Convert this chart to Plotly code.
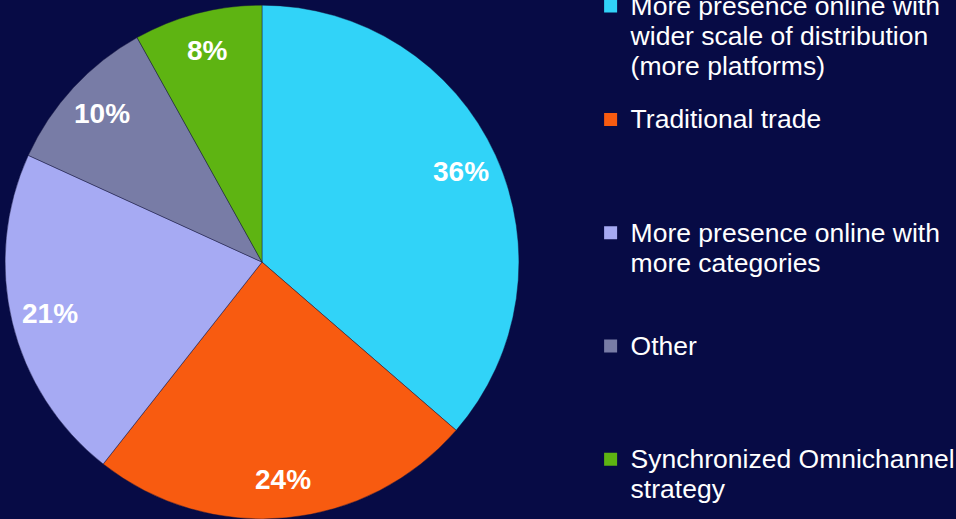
import math
import plotly.graph_objects as go

# Survey shares per channel strategy (percent)
categories = [
    "More presence online with wider scale of distribution (more platforms)",
    "Traditional trade",
    "More presence online with more categories",
    "Other",
    "Synchronized Omnichannel strategy",
]
legend_lines = [
    ["More presence online with", "wider scale of distribution", "(more platforms)"],
    ["Traditional trade"],
    ["More presence online with", "more categories"],
    ["Other"],
    ["Synchronized Omnichannel", "strategy"],
]
values = [36, 24, 21, 10, 8]
colors = ["#31d3f8", "#f85b10", "#a6aaf3", "#787ca6", "#5eb412"]

W, H = 956, 519
BG = "#070b45"
FONT = "Liberation Sans, Arial, sans-serif"
dom_x = [4 / W, 520 / W]
dom_y = [0, 0.99]

fig = go.Figure()

fig.add_trace(go.Pie(
    labels=categories,
    values=values,
    sort=False,
    direction="clockwise",
    rotation=0,
    marker=dict(colors=colors, line=dict(color="rgba(20,20,60,0.55)", width=0.8)),
    textinfo="none",
    hoverinfo="label+percent",
    showlegend=False,
    domain=dict(x=dom_x, y=dom_y),
))

# Percentage labels along each slice's mid-angle, near the rim
cx = (dom_x[0] + dom_x[1]) / 2 * W
cy = (1 - (dom_y[0] + dom_y[1]) / 2) * H
radius = min((dom_x[1] - dom_x[0]) * W, (dom_y[1] - dom_y[0]) * H) / 2
label_r = 0.85 * radius
total = sum(values)
acc = 0
for v in values:
    ang = math.radians((acc + v / 2) / total * 360)
    acc += v
    px = cx + label_r * math.sin(ang)
    py = cy - label_r * math.cos(ang)
    fig.add_annotation(
        x=px / W, y=1 - py / H, xref="paper", yref="paper",
        text=f"{v}%", showarrow=False,
        xanchor="center", yanchor="middle",
        font=dict(family=FONT, size=28, color="white", weight="bold"),
    )

# Legend entries: square swatches with multi-line names padded to equal height
for i, (lines, col) in enumerate(zip(legend_lines, colors)):
    padded = list(lines)
    if i < len(legend_lines) - 1:
        padded += ["\u00a0"] * (3 - len(padded))
    name = "<br>".join(f'<span style="font-size:26.5px">{ln}</span>' for ln in padded)
    fig.add_trace(go.Scatter(
        x=[None], y=[None],
        mode="markers",
        marker=dict(symbol="square", size=13, color=col),
        name=name,
        legendgroup=f"g{i}",
        hoverinfo="skip",
    ))

fig.update_layout(
    width=W,
    height=H,
    margin=dict(l=0, r=0, t=0, b=0, autoexpand=False),
    paper_bgcolor=BG,
    plot_bgcolor=BG,
    xaxis=dict(visible=False),
    yaxis=dict(visible=False),
    legend=dict(
        x=0.6178, xanchor="left",
        y=1.0296, yanchor="top",
        bgcolor="rgba(0,0,0,0)",
        font=dict(family=FONT, size=23, color="white"),
        valign="top",
        tracegroupgap=20.6,
        itemwidth=30,
        maxheight=2000,
        traceorder="grouped",
    ),
    showlegend=True,
)

fig.write_html("out.html")
